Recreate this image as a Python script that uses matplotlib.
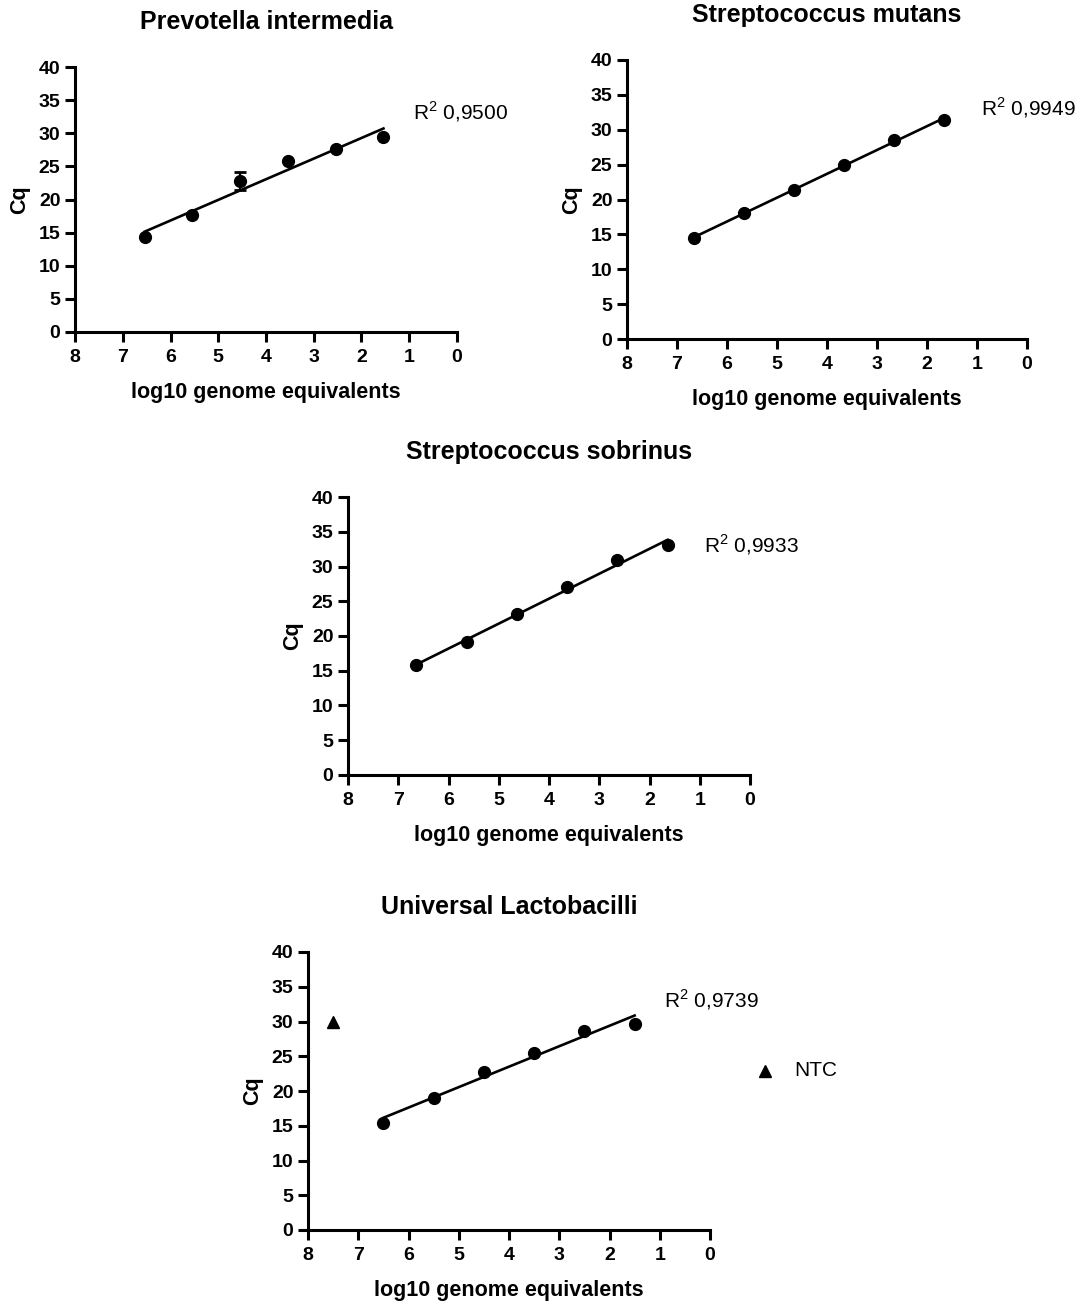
import numpy as np
import matplotlib
matplotlib.use('Agg')
import matplotlib.pyplot as plt

plt.rcParams['font.family'] = ['Liberation Sans', 'DejaVu Sans']
plt.rcParams['mathtext.fontset'] = 'custom'
plt.rcParams['mathtext.rm'] = 'Liberation Sans'

# data
titles = ['Prevotella intermedia', 'Streptococcus mutans', 'Streptococcus sobrinus', 'Universal Lactobacilli']
r2_labels = ['0,9500', '0,9949', '0,9933', '0,9739']

pi_x = [6.54, 5.54, 4.54, 3.54, 2.54, 1.54]
pi_y = [14.3, 17.6, 22.8, 25.8, 27.6, 29.5]
pi_err = [0.0, 0.0, 1.4, 0.0, 0.0, 0.0]

sm_x = [6.66, 5.66, 4.66, 3.66, 2.66, 1.66]
sm_y = [14.5, 18.0, 21.4, 25.0, 28.5, 31.4]

ss_x = [6.64, 5.64, 4.64, 3.64, 2.64, 1.64]
ss_y = [15.8, 19.2, 23.1, 27.1, 30.9, 33.1]

lb_x = [6.5, 5.5, 4.5, 3.5, 2.5, 1.5]
lb_y = [15.4, 19.0, 22.8, 25.5, 28.6, 29.7]
ntc_x = [7.5]
ntc_y = [30.0]

W, H = 1091, 1309
fig = plt.figure(figsize=(W / 100, H / 100), dpi=100)

# axes boxes in pixels: left, top, right, bottom
boxes = [(75, 67, 457, 332), (627, 60, 1027, 339), (348, 497, 750, 775), (308, 952, 710, 1230)]
series = [(pi_x, pi_y), (sm_x, sm_y), (ss_x, ss_y), (lb_x, lb_y)]

for i, (l, t, r, b) in enumerate(boxes):
    ax = fig.add_axes([l / W, 1 - b / H, (r - l) / W, (b - t) / H])
    x, y = series[i]
    x = np.array(x)
    y = np.array(y)
    slope, icpt = np.polyfit(x, y, 1)
    xf = np.array([x.min(), x.max()])
    ax.plot(xf, slope * xf + icpt, color='black', lw=1.9, zorder=2)
    if i == 0:
        ax.errorbar(x, y, yerr=pi_err, fmt='o', color='black', ms=8.5, capsize=4.5, elinewidth=1.6, capthick=2, zorder=3)
    else:
        ax.plot(x, y, 'o', color='black', ms=8.5, zorder=3)
    if i == 3:
        ax.plot(ntc_x, ntc_y, '^', color='black', ms=8.5, clip_on=False)
        ax.plot([-1.1], [22.9], '^', color='black', ms=8.5, clip_on=False)
        ax.text(-1.68, 22.9, 'NTC', fontsize=15, va='center', ha='left')
    ax.text(0.92, 33.2, 'R$^2$ ' + r2_labels[i], fontsize=15, va='center', ha='left')

    ax.set_xlim(8, 0)
    ax.set_ylim(0, 40)
    ax.set_xticks(range(0, 9))
    ax.set_yticks(range(0, 41, 5))
    for s in ['top', 'right']:
        ax.spines[s].set_visible(False)
    for s in ['left', 'bottom']:
        ax.spines[s].set_linewidth(2.2)
    ax.tick_params(width=2.2, length=7.5, labelsize=14, pad=3)
    ax.tick_params(axis='x', pad=5)
    for lab in ax.get_xticklabels() + ax.get_yticklabels():
        lab.set_fontweight('bold')
    ax.set_xlabel('log10 genome equivalents', fontsize=15.5, fontweight='bold', labelpad=11)
    ax.set_ylabel('Cq', fontsize=15.5, fontweight='bold', labelpad=6)
    fig.text((l + r) / 2 / W, 1 - (t - 45) / H, titles[i], fontsize=18, fontweight='bold', ha='center', va='center')

fig.savefig('out.png', dpi=100)
